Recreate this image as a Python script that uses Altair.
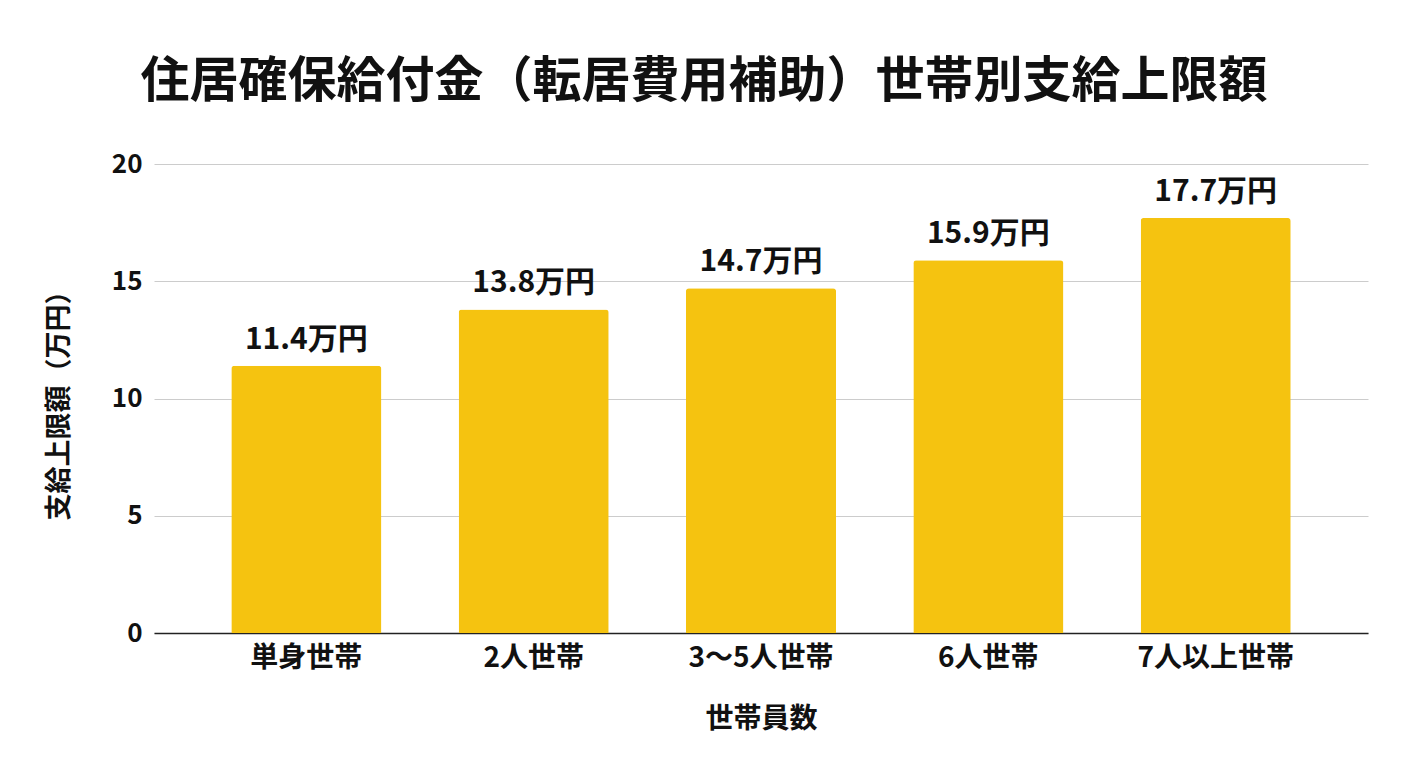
import altair as alt
import pandas as pd

# data
households = ['単身世帯', '2人世帯', '3〜5人世帯', '6人世帯', '7人以上世帯']
limits = [11.4, 13.8, 14.7, 15.9, 17.7]
labels = ['11.4万円', '13.8万円', '14.7万円', '15.9万円', '17.7万円']
y_ticks = [0, 5, 10, 15, 20]

df = pd.DataFrame({'household': households, 'limit': limits, 'label': labels})

FONT = 'Noto Sans CJK JP'
YELLOW = '#F5C310'

x_enc = alt.X('household:N', sort=households, title='世帯員数',
              scale=alt.Scale(paddingInner=0.34, paddingOuter=0.34),
              axis=alt.Axis(labelAngle=0, labelFontSize=28, labelFontWeight='bold',
                            labelColor='#111', labelPadding=11, ticks=False,
                            domainColor='#222', domainWidth=1.5,
                            titleFontSize=28, titleFontWeight='bold',
                            titleColor='#111', titlePadding=33))
y_enc = alt.Y('limit:Q', title='支給上限額（万円）',
              scale=alt.Scale(domain=[0, 20]),
              axis=alt.Axis(values=y_ticks, labelFontSize=26, labelFontWeight='bold',
                            labelColor='#111', labelPadding=12, ticks=False,
                            domain=False, gridColor='#cccccc', gridWidth=1,
                            titleFontSize=27, titleFontWeight='bold',
                            titleColor='#111', titlePadding=38))

bars = alt.Chart(df).mark_bar(color=YELLOW, cornerRadiusTopLeft=3,
                              cornerRadiusTopRight=3).encode(x=x_enc, y=y_enc)

text = alt.Chart(df).mark_text(baseline='bottom', dy=-11, fontSize=30,
                               fontWeight='bold', color='#111', font=FONT).encode(
    x=alt.X('household:N', sort=households),
    y='limit:Q',
    text='label:N'
)

chart = (bars + text).properties(
    width=1214,
    height=469,
    autosize=alt.AutoSizeParams(type='none'),
    padding={'left': 146, 'top': 156, 'right': 32, 'bottom': 127},
    title=alt.TitleParams('住居確保給付金（転居費用補助）世帯別支給上限額',
                          fontSize=49, fontWeight='bold', color='#111', font=FONT,
                          anchor='middle', dx=-57, offset=44)
).configure(font=FONT).configure_view(stroke=None)

chart.save("out.html", embed_options={"renderer": "svg", "actions": False})
